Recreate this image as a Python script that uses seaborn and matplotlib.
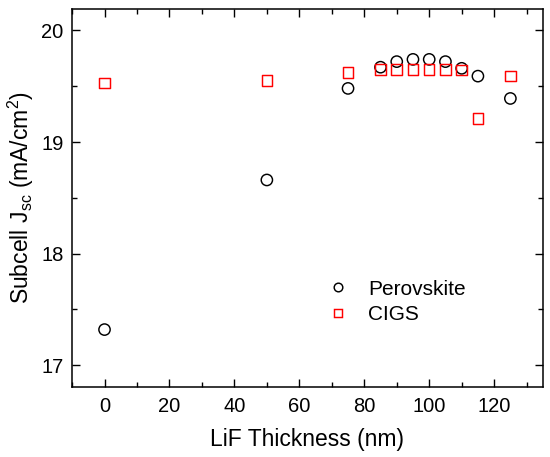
import matplotlib
matplotlib.use("Agg")
import matplotlib.pyplot as plt
from matplotlib.ticker import MultipleLocator
from matplotlib.lines import Line2D
import seaborn as sns
import pandas as pd

thickness = [0, 50, 75, 85, 90, 95, 100, 105, 110, 115, 125]
perovskite = [17.32, 18.66, 19.48, 19.67, 19.72, 19.74, 19.74, 19.72, 19.66, 19.59, 19.39]
cigs = [19.53, 19.55, 19.62, 19.65, 19.65, 19.65, 19.65, 19.65, 19.645, 19.21, 19.59]

df = pd.DataFrame({"LiF": thickness, "Perovskite": perovskite, "CIGS": cigs})

sns.set_style("ticks")
plt.rcParams["font.family"] = ["Liberation Sans", "DejaVu Sans"]
plt.rcParams["mathtext.fontset"] = "custom"
plt.rcParams["mathtext.rm"] = "Liberation Sans"
plt.rcParams["mathtext.it"] = "Liberation Sans"
for k in ["text.color", "axes.labelcolor", "xtick.color", "ytick.color"]:
    plt.rcParams[k] = "black"

fig, ax = plt.subplots(figsize=(5.5, 4.57), dpi=100)

# hollow markers, one call per subcell
sns.scatterplot(data=df, x="LiF", y="Perovskite", marker="o", s=66,
                facecolor="none", edgecolor="black", linewidth=1.05, ax=ax)
sns.scatterplot(data=df, x="LiF", y="CIGS", marker="s", s=58,
                facecolor="none", edgecolor="red", linewidth=1.05, ax=ax)

ax.set_xlim(-10, 135)
ax.set_ylim(16.805, 20.19)
ax.xaxis.set_major_locator(MultipleLocator(20))
ax.xaxis.set_minor_locator(MultipleLocator(10))
ax.yaxis.set_major_locator(MultipleLocator(1))
ax.yaxis.set_minor_locator(MultipleLocator(0.5))
ax.tick_params(which="both", direction="in", top=True, right=True, labelsize=14.5)
ax.tick_params(which="major", length=6, width=1)
ax.tick_params(which="minor", length=3.5, width=1)
ax.tick_params(axis="x", pad=7)
ax.tick_params(axis="y", pad=6)
for sp in ax.spines.values():
    sp.set_linewidth(1.1)
    sp.set_color("black")

ax.set_xlabel("LiF Thickness (nm)", fontsize=16.5, labelpad=9)
ax.set_ylabel("Subcell J$_{\\mathrm{sc}}$ (mA/cm$^{2}$)", fontsize=16.5, labelpad=4)

handles = [
    Line2D([], [], ls="none", marker="o", ms=6.2, mfc="none", mec="black", mew=1.05),
    Line2D([], [], ls="none", marker="s", ms=6.0, mfc="none", mec="red", mew=1.05),
]
ax.legend(handles, ["Perovskite", "CIGS"], loc="upper left",
          bbox_to_anchor=(0.521, 0.312), frameon=False, fontsize=15,
          borderpad=0, handlelength=1.0, handletextpad=0.95, labelspacing=0.3)

fig.subplots_adjust(left=0.131, right=0.987, top=0.98, bottom=0.153)
fig.savefig("out.png", dpi=100)
